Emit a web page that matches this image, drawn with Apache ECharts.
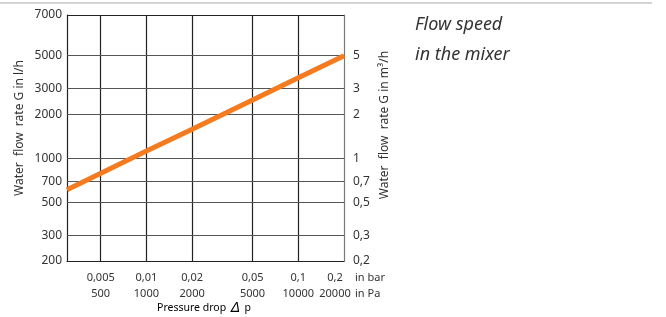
<!DOCTYPE html>
<html>
<head>
<meta charset="utf-8">
<script src="https://cdn.jsdelivr.net/npm/echarts@6/dist/echarts.min.js"></script>
<style>
  html, body { margin: 0; padding: 0; background: #fff; }
  #chart { width: 666px; height: 317px; }
</style>
</head>
<body>
<div id="chart"></div>
<script>
// pressure drop in Pa -> flow in l/h
const pressurePa = [300, 1000, 2000, 5000, 10000, 20000]
const flowLh = [610, 1120, 1580, 2500, 3540, 5000]

const xTicks = [500, 1000, 2000, 5000, 10000, 20000]
const xBarLabels = ['0,005', '0,01', '0,02', '0,05', '0,1', '0,2']
const xPaLabels = ['500', '1000', '2000', '5000', '10000', '20000']

const yTicks = [200, 300, 500, 700, 1000, 2000, 3000, 5000]
const yTop = 9460 // top edge of the plot, printed as 7000 in the original
const yTopLabel = '7000'
const yRightLabels = ['0,2', '0,3', '0,5', '0,7', '1', '2', '3', '5']

const font = 'Noto Sans'
const textColor = '#333'

const chart = echarts.init(document.getElementById('chart'))

const xLabel = (v) => {
  const i = xTicks.indexOf(v)
  if (i < 0) return ''
  // last label sits a bit left of its grid line in the original
  const s = i === xTicks.length - 1 ? 'e' : 'n'
  return `{${s}|${xBarLabels[i]}}\n{${s}|${xPaLabels[i]}}`
}

const option = {
  animation: false,
  grid: { left: 67, right: 322, top: 15, bottom: 56 },
  xAxis: {
    type: 'log',
    min: 300,
    max: 20000,
    axisLine: { show: true, lineStyle: { color: '#222', width: 1.2 } },
    axisTick: { show: false },
    splitLine: { show: false },
    axisLabel: {
      customValues: xTicks,
      formatter: xLabel,
      fontFamily: font,
      fontSize: 11,
      color: textColor,
      lineHeight: 16,
      margin: 9,
      rich: {
        n: { fontFamily: font, fontSize: 11, color: textColor, lineHeight: 16 },
        e: { fontFamily: font, fontSize: 11, color: textColor, lineHeight: 16, padding: [0, 18, 0, 0] }
      }
    }
  },
  yAxis: [
    {
      type: 'log',
      min: 200,
      max: yTop,
      axisLine: { show: true, lineStyle: { color: '#222', width: 1.2 } },
      axisTick: { show: false },
      splitLine: { show: false },
      axisLabel: {
        customValues: yTicks.concat([yTop]),
        formatter: (v) => (v === yTop ? yTopLabel : String(v)),
        fontFamily: font,
        fontSize: 12,
        color: textColor,
        margin: 5
      }
    },
    {
      type: 'log',
      min: 0.2,
      max: yTop / 1000,
      position: 'right',
      axisLine: { show: true, lineStyle: { color: '#777', width: 1.2 } },
      axisTick: { show: false },
      splitLine: { show: false },
      axisLabel: {
        customValues: yTicks.map(v => v / 1000),
        formatter: (v) => {
          const i = yTicks.indexOf(Math.round(v * 1000))
          return i < 0 ? '' : yRightLabels[i]
        },
        fontFamily: font,
        fontSize: 12,
        color: textColor,
        margin: 9,
        align: 'left'
      }
    }
  ],
  series: [
    {
      type: 'line',
      data: pressurePa.map((p, i) => [p, flowLh[i]]),
      showSymbol: false,
      lineStyle: { color: '#f47b20', width: 5, cap: 'butt' },
      z: 5,
      markLine: {
        silent: true,
        symbol: 'none',
        label: { show: false },
        data: [
          ...xTicks.slice(0, -1).map(v => ({ xAxis: v, lineStyle: { color: '#222', width: 1.2, type: 'solid' } })),
          ...yTicks.slice(1).map(v => ({ yAxis: v, lineStyle: { color: '#555', width: 1.2, type: 'solid' } })),
          { yAxis: yTop, lineStyle: { color: '#222', width: 1.2, type: 'solid' } }
        ],
        z: 1
      }
    }
  ],
  graphic: [
    {
      type: 'rect',
      shape: { x: 0, y: 2, width: 652, height: 2 },
      style: { fill: '#d4d4d4' }
    },
    {
      type: 'text',
      x: 415, y: 10,
      style: {
        text: 'Flow speed\nin the mixer',
        font: 'italic 18px "Noto Sans"',
        lineHeight: 30,
        fill: '#333'
      }
    },
    {
      type: 'text',
      x: 20, y: 128,
      rotation: Math.PI / 2,
      style: {
        text: 'Water  flow  rate G in l/h',
        font: '12px "Noto Sans"',
        fill: textColor,
        align: 'center',
        verticalAlign: 'middle'
      }
    },
    {
      type: 'text',
      x: 385, y: 125,
      rotation: Math.PI / 2,
      style: {
        text: 'Water  flow  rate G in m³/h',
        font: '12px "Noto Sans"',
        fill: textColor,
        align: 'center',
        verticalAlign: 'middle'
      }
    },
    {
      type: 'text',
      x: 355, y: 270,
      style: {
        text: 'in bar\nin Pa',
        font: '11px "Noto Sans"',
        lineHeight: 16,
        fill: textColor
      }
    },
    {
      type: 'text',
      x: 204, y: 308,
      style: {
        text: '{a|Pressure drop }{b|Δ}{a| p}',
        align: 'center',
        verticalAlign: 'middle',
        rich: {
          a: { fontFamily: font, fontSize: 10.5, color: textColor },
          b: { fontFamily: font, fontSize: 15, fontStyle: 'italic', color: textColor, padding: [0, 2, 0, 2] }
        }
      }
    }
  ]
}

chart.setOption(option)
window.addEventListener('resize', () => chart.resize())
</script>
</body>
</html>
